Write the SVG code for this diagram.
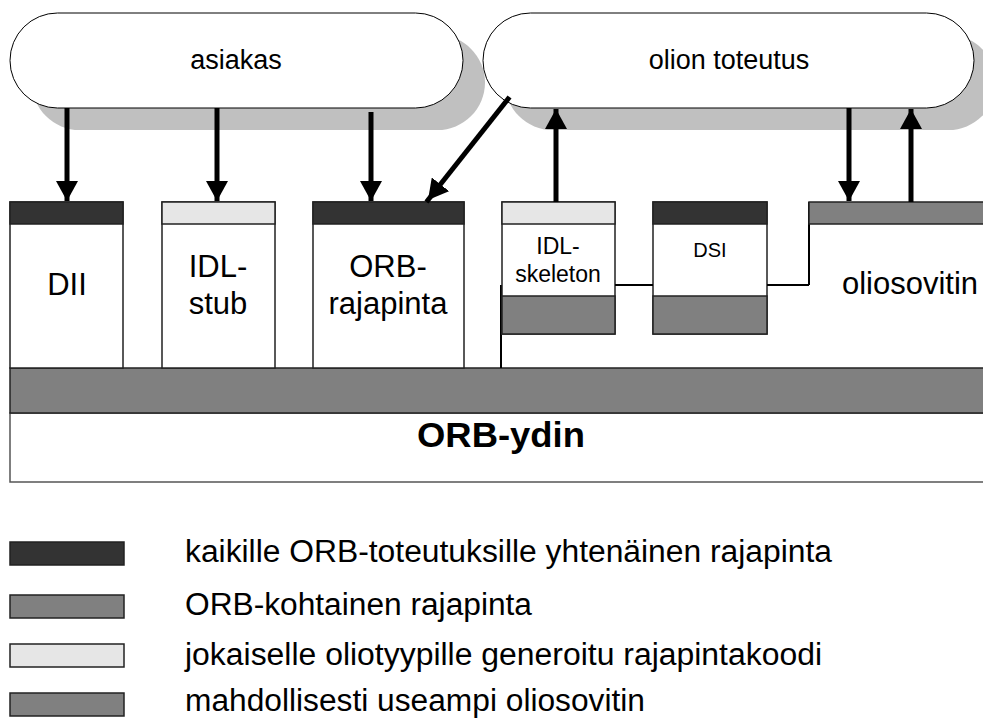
<svg xmlns="http://www.w3.org/2000/svg" width="983" height="718" viewBox="0 0 983 718">
  <defs>
    <marker id="head" markerUnits="userSpaceOnUse" markerWidth="22" markerHeight="22" viewBox="0 0 22 22" refX="20" refY="11" orient="auto">
      <path d="M0 0 L20 11 L0 22 Z" fill="#000"/>
    </marker>
    <style>
      text { font-family: "Liberation Sans", Arial, sans-serif; fill: #000; }
      .pill { fill: #fff; stroke: #000; stroke-width: 1; }
      .shadow { fill: #c0c0c0; stroke: none; }
      .box { fill: #fff; stroke: #222; stroke-width: 1.5; }
      .dark { fill: #333333; stroke: #222; stroke-width: 1.5; }
      .mid { fill: #808080; stroke: #222; stroke-width: 1.5; }
      .light { fill: #e6e6e6; stroke: #222; stroke-width: 1.5; }
      .wire { fill: none; stroke: #000; stroke-width: 2; }
      .arrow { fill: none; stroke: #000; stroke-width: 5; marker-end: url(#head); }
      .big { font-size: 31px; text-anchor: middle; }
      .lbl { font-size: 27px; text-anchor: middle; }
      .leg { font-size: 31px; }
    </style>
  </defs>

  <!-- drop shadows of the two top layers -->
  <rect class="shadow" x="32" y="35" width="453" height="95" rx="47.5"/>
  <rect class="shadow" x="505" y="35" width="491" height="95" rx="47.5"/>

  <g id="asiakas">
    <rect class="pill" x="10" y="13" width="453" height="95" rx="47.5"/>
    <text class="lbl" x="236" y="69">asiakas</text>
  </g>

  <g id="olion-toteutus">
    <rect class="pill" x="483" y="13" width="491" height="95" rx="47.5"/>
    <text class="lbl" x="729" y="69">olion toteutus</text>
  </g>

  <g id="orb-ydin">
    <rect x="10" y="413" width="1000" height="69" fill="#fff" stroke="#555" stroke-width="1.5"/>
    <rect class="mid" x="10" y="368" width="1000" height="45"/>
    <text x="501" y="447" font-size="35" font-weight="bold" text-anchor="middle" textLength="168" lengthAdjust="spacingAndGlyphs">ORB-ydin</text>
  </g>

  <g id="dii">
    <rect class="box" x="10" y="202" width="113" height="166"/>
    <rect class="dark" x="10" y="202" width="113" height="22"/>
    <text class="big" x="67" y="295">DII</text>
  </g>

  <g id="idl-stub">
    <rect class="box" x="162" y="202" width="113" height="166"/>
    <rect class="light" x="162" y="202" width="113" height="22"/>
    <text class="big" x="218" y="277">IDL-</text>
    <text class="big" x="218" y="314">stub</text>
  </g>

  <g id="orb-rajapinta">
    <rect class="box" x="313" y="202" width="151" height="166"/>
    <rect class="dark" x="313" y="202" width="151" height="22"/>
    <text class="big" x="388" y="277">ORB-</text>
    <text class="big" x="388" y="314">rajapinta</text>
  </g>

  <g id="oliosovitin">
    <path class="wire" d="M501 285 V368 M809 285 V203 H990"/>
    <rect class="mid" x="809" y="202" width="200" height="22"/>
    <text x="842" y="294" font-size="31" textLength="136" lengthAdjust="spacingAndGlyphs">oliosovitin</text>
  </g>

  <g id="idl-skeleton">
    <rect class="box" x="502" y="202" width="113" height="132"/>
    <rect class="light" x="502" y="202" width="113" height="22"/>
    <rect class="mid" x="502" y="296" width="113" height="38"/>
    <text x="558" y="254" font-size="23" text-anchor="middle">IDL-</text>
    <text x="558" y="282" font-size="23" text-anchor="middle">skeleton</text>
  </g>

  <g id="dsi">
    <rect class="box" x="653" y="202" width="114" height="132"/>
    <rect class="dark" x="653" y="202" width="114" height="22"/>
    <rect class="mid" x="653" y="296" width="114" height="38"/>
    <text x="710" y="257" font-size="20" text-anchor="middle">DSI</text>
  </g>

  <g id="connectors">
    <path class="wire" d="M615 285 H653 M767 285 H809"/>
    <line class="arrow" x1="67" y1="108" x2="67" y2="201"/>
    <line class="arrow" x1="217" y1="108" x2="217" y2="201"/>
    <line class="arrow" x1="371" y1="112" x2="371" y2="201"/>
    <line class="arrow" x1="508" y1="99" x2="428" y2="200" stroke-linecap="square"/>
    <line class="arrow" x1="556" y1="202" x2="556" y2="109"/>
    <line class="arrow" x1="849" y1="108" x2="849" y2="201"/>
    <line class="arrow" x1="911" y1="202" x2="911" y2="109"/>
  </g>

  <g id="legend">
    <rect class="dark" x="10" y="542" width="114" height="23"/>
    <rect class="mid" x="10" y="595" width="114" height="23"/>
    <rect class="light" x="10" y="644" width="114" height="23"/>
    <rect class="mid" x="10" y="693" width="114" height="23"/>
    <text class="leg" x="185" y="562" textLength="647" lengthAdjust="spacingAndGlyphs">kaikille ORB-toteutuksille yhtenäinen rajapinta</text>
    <text class="leg" x="185" y="615" textLength="347" lengthAdjust="spacingAndGlyphs">ORB-kohtainen rajapinta</text>
    <text class="leg" x="185" y="665" textLength="637" lengthAdjust="spacingAndGlyphs">jokaiselle oliotyypille generoitu rajapintakoodi</text>
    <text class="leg" x="185" y="711" textLength="460" lengthAdjust="spacingAndGlyphs">mahdollisesti useampi oliosovitin</text>
  </g>
</svg>
